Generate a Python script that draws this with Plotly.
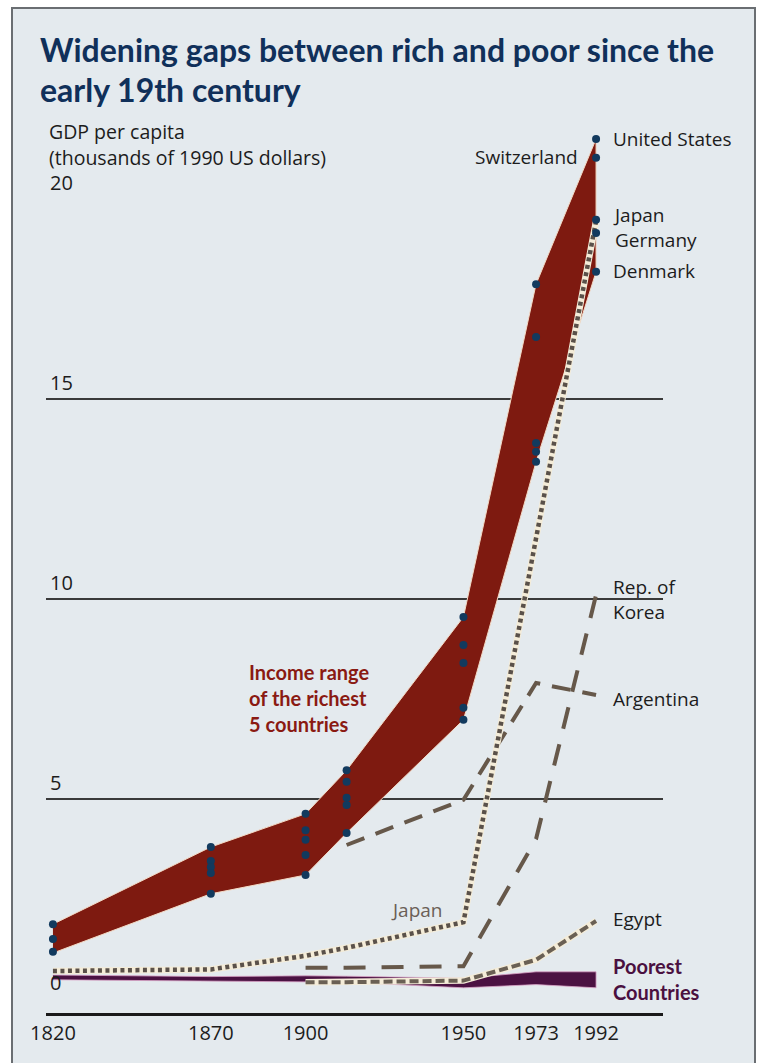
import plotly.graph_objects as go

# ---------------- data ----------------
years = [1820, 1870, 1900, 1913, 1950, 1973, 1992]
rich_top = [1.87, 3.80, 4.63, 5.72, 9.55, 17.87, 21.50]
rich_bottom = [1.15, 2.63, 3.10, 4.15, 6.98, 13.43, 18.18]

dots_1820 = [1.87, 1.50, 1.18]
dots_1870 = [3.80, 3.45, 3.30, 3.15, 2.63]
dots_1900 = [4.63, 4.22, 3.98, 3.60, 3.10]
dots_1913 = [5.72, 5.43, 5.03, 4.85, 4.15]
dots_1950 = [9.55, 8.85, 8.40, 7.28, 6.98]
dots_1973 = [17.87, 16.55, 13.90, 13.68, 13.43]
dots_1992 = [21.50, 21.03, 19.48, 19.15, 18.18]

poor_top = [0.60, 0.56, 0.58, 0.57, 0.52, 0.68, 0.68]
poor_bottom = [0.48, 0.45, 0.43, 0.42, 0.28, 0.36, 0.28]

japan = [0.70, 0.74, 1.08, 1.28, 1.92, 11.6, 19.45]

korea_years = [1900, 1913, 1950, 1973, 1992]
korea = [0.78, 0.78, 0.82, 4.0, 10.1]

argentina_years = [1913, 1950, 1973, 1992]
argentina = [3.85, 4.98, 7.90, 7.60]

egypt_years = [1900, 1913, 1950, 1973, 1992]
egypt = [0.42, 0.42, 0.46, 0.98, 1.95]

y_ticks = [0, 5, 10, 15, 20]
x_ticks = [1820, 1870, 1900, 1950, 1973, 1992]

# ---------------- layout helpers ----------------
W, H = 760, 1063
ML, MR, MT, MB = 46, 97, 99, 50
PW, PH = W - ML - MR, H - MT - MB


def px(x):
    return (x - ML) / PW


def py(y):
    return (H - MB - y) / PH


BG = "#e4eaee"
FONT = "Open Sans"
BFONT = "Lato"
TXT = "#1c1c1c"

fig = go.Figure()

# rich band
fig.add_trace(go.Scatter(
    x=years + years[::-1], y=rich_top + rich_bottom[::-1],
    fill="toself", fillcolor="#7e1a10", mode="lines",
    line=dict(color="#f3d9c4", width=1), hoverinfo="skip", showlegend=False))

# poorest band
fig.add_trace(go.Scatter(
    x=years + years[::-1], y=poor_top + poor_bottom[::-1],
    fill="toself", fillcolor="#4b1242", mode="lines",
    line=dict(color="#d9a3c6", width=0.8), hoverinfo="skip", showlegend=False))

# Egypt (halo + dashes)
fig.add_trace(go.Scatter(x=egypt_years, y=egypt, mode="lines",
                         line=dict(color="#f4ecd8", width=6.5), hoverinfo="skip", showlegend=False))
fig.add_trace(go.Scatter(x=egypt_years, y=egypt, mode="lines",
                         line=dict(color="#6a6054", width=4, dash="9px,4px"), showlegend=False))

# Korea
fig.add_trace(go.Scatter(x=korea_years, y=korea, mode="lines",
                         line=dict(color="#66584a", width=4, dash="22px,16px"), showlegend=False))

# Argentina
fig.add_trace(go.Scatter(x=argentina_years, y=argentina, mode="lines",
                         line=dict(color="#66584a", width=4, dash="19px,12px"), showlegend=False))

# Japan dotted (halo + dots)
fig.add_trace(go.Scatter(x=years, y=japan, mode="lines",
                         line=dict(color="#f4ecd8", width=6.5), hoverinfo="skip", showlegend=False))
fig.add_trace(go.Scatter(x=years, y=japan, mode="lines",
                         line=dict(color="#5a514a", width=4.5, dash="4px,3.5px"), showlegend=False))

# country dots of the richest five
for yr, vals in zip(years, [dots_1820, dots_1870, dots_1900, dots_1913,
                            dots_1950, dots_1973, dots_1992]):
    fig.add_trace(go.Scatter(x=[yr] * len(vals), y=vals, mode="markers",
                             marker=dict(color="#123a5e", size=8), showlegend=False))

ann = []
# title
ann.append(dict(text="<b>Widening gaps between rich and poor since the</b>",
                x=px(38), y=py(50), xref="paper", yref="paper", xanchor="left", yanchor="middle",
                showarrow=False, font=dict(family=BFONT, size=32, color="#10305a")))
ann.append(dict(text="<b>early 19th century</b>",
                x=px(38), y=py(90), xref="paper", yref="paper", xanchor="left", yanchor="middle",
                showarrow=False, font=dict(family=BFONT, size=32, color="#10305a")))
# axis title
ann.append(dict(text="GDP per capita", x=px(47), y=py(131), xref="paper", yref="paper",
                xanchor="left", yanchor="middle", showarrow=False,
                font=dict(family=FONT, size=19.5, color=TXT)))
ann.append(dict(text="(thousands of 1990 US dollars)", x=px(47), y=py(157), xref="paper", yref="paper",
                xanchor="left", yanchor="middle", showarrow=False,
                font=dict(family=FONT, size=19.5, color=TXT)))
# y tick labels
for v in y_ticks:
    ann.append(dict(text=str(v), x=0, y=v, xref="paper", yref="y", xanchor="left", yanchor="bottom",
                    xshift=2, yshift=1, showarrow=False, font=dict(family=FONT, size=20, color=TXT)))

# series labels
lab = dict(family=FONT, size=19, color=TXT)
ann += [
    dict(text="United States", x=1992, y=21.5, xanchor="left", xshift=15, showarrow=False, font=lab),
    dict(text="Switzerland", x=1992, y=21.05, xanchor="right", xshift=-16, showarrow=False, font=lab),
    dict(text="Japan<br>Germany", x=1992, y=19.3, xanchor="left", xshift=15, showarrow=False,
         align="left", font=lab),
    dict(text="Denmark", x=1992, y=18.2, xanchor="left", xshift=15, showarrow=False, font=lab),
    dict(text="Rep. of<br>Korea", x=1992, y=9.98, xanchor="left", xshift=15, showarrow=False,
         align="left", font=lab),
    dict(text="Argentina", x=1992, y=7.5, xanchor="left", xshift=15, showarrow=False, font=lab),
    dict(text="Egypt", x=1992, y=2.0, xanchor="left", xshift=15, showarrow=False, font=lab),
    dict(text="<b>Poorest<br>Countries</b>", x=1992, y=0.5, xanchor="left", xshift=15, showarrow=False,
         align="left", font=dict(family=BFONT, size=20, color="#4a1040")),
    dict(text="Japan", x=1935.3, y=2.22, showarrow=False,
         font=dict(family=FONT, size=19, color="#6b5f57")),
    dict(text="<b>Income range<br>of the richest<br>5 countries</b>", x=1881.5, y=7.52,
         xanchor="left", showarrow=False, align="left",
         font=dict(family=BFONT, size=20, color="#8a1a12")),
]

# frame of the panel
shapes = [dict(type="rect", xref="paper", yref="paper", layer="below",
               x0=px(12), x1=px(755), y0=py(1075), y1=py(8),
               fillcolor=BG, line=dict(color="#6a6e72", width=2))]

fig.update_layout(
    width=W, height=H, margin=dict(l=ML, r=MR, t=MT, b=MB),
    paper_bgcolor="white", plot_bgcolor="rgba(0,0,0,0)",
    showlegend=False, annotations=ann, shapes=shapes,
    font=dict(family=FONT, color=TXT),
    xaxis=dict(range=[1817.8, 2013.2], tickvals=x_ticks, ticktext=[str(t) for t in x_ticks],
               showgrid=False, zeroline=False, showline=True, linecolor="#1a1a1a", linewidth=3,
               ticks="", tickfont=dict(family=FONT, size=20, color=TXT), fixedrange=True),
    yaxis=dict(range=[-0.35, 22.5], tickvals=[5, 10, 15], showticklabels=False,
               showgrid=True, gridcolor="#3a3a3a", gridwidth=1.5, zeroline=False,
               showline=False, ticks="", fixedrange=True),
)

fig.write_html("out.html")
